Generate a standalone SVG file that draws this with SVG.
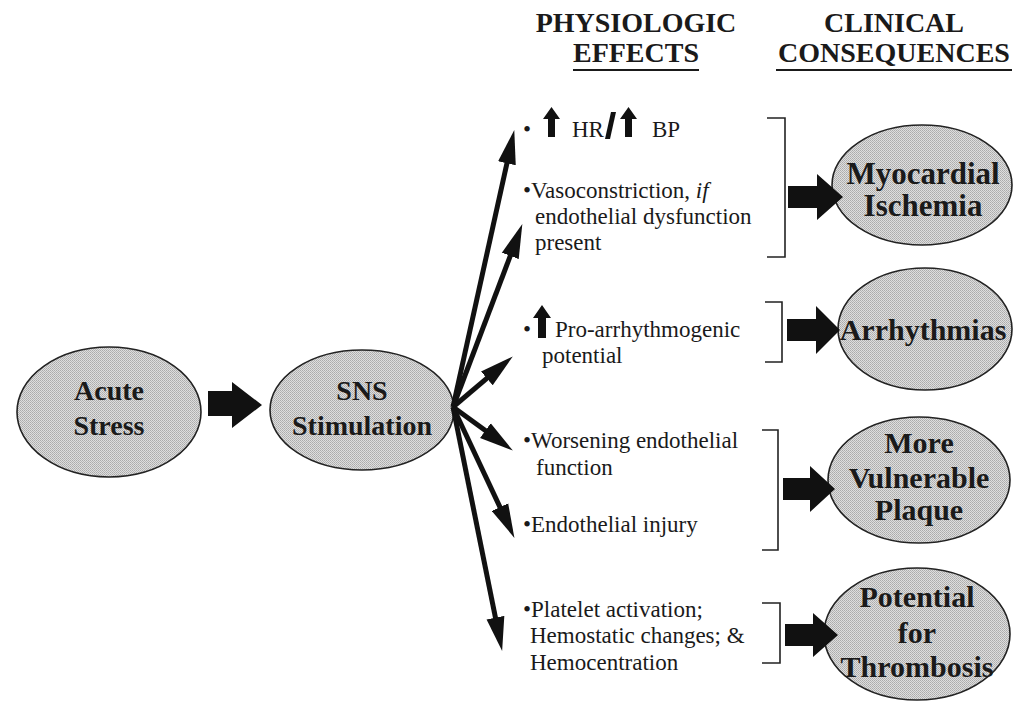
<svg xmlns="http://www.w3.org/2000/svg" width="1018" height="708" viewBox="0 0 1018 708">
  <defs>
    <pattern id="stipple" width="2" height="2" patternUnits="userSpaceOnUse">
      <rect width="2" height="2" fill="#dedede"/>
      <rect x="0" y="0" width="1" height="1" fill="#ababab"/>
      <rect x="1" y="1" width="1" height="1" fill="#b6b6b6"/>
    </pattern>
    <marker id="head" markerUnits="userSpaceOnUse" markerWidth="34" markerHeight="19" refX="16" refY="8.5" orient="auto" viewBox="0 0 32 17">
      <path d="M0,0 L32,8.5 L0,17 z" fill="#111"/>
    </marker>
  </defs>
  <style>
    text { font-family: 'Liberation Serif', Tinos, 'DejaVu Serif', serif; }
    .node { fill: url(#stipple); stroke: #222; stroke-width: 1.6; }
    .ntxt { font-weight: bold; fill: #1a1a1a; text-anchor: middle; }
    .hdr { font-weight: bold; font-size: 28px; fill: #1a1a1a; text-anchor: middle; }
    .body { font-size: 23px; fill: #1a1a1a; }
    .fan { stroke: #111; stroke-width: 5; fill: none; marker-end: url(#head); }
    .block { fill: #111; }
    .bracket { fill: none; stroke: #222; stroke-width: 1.6; }
    .uline { stroke: #1a1a1a; stroke-width: 2; }
  </style>

  <!-- Headers -->
  <g id="headers">
    <text class="hdr" x="636" y="32">PHYSIOLOGIC</text>
    <text class="hdr" x="636" y="62">EFFECTS</text>
    <line class="uline" x1="573" y1="70" x2="699" y2="70"/>
    <text class="hdr" x="894" y="32">CLINICAL</text>
    <text class="hdr" x="894" y="62">CONSEQUENCES</text>
    <line class="uline" x1="776" y1="70" x2="1012" y2="70"/>
  </g>

  <!-- Nodes -->
  <g id="acute-stress">
    <ellipse class="node" cx="109" cy="412" rx="92" ry="65"/>
    <text class="ntxt" x="109" y="400" font-size="28">Acute</text>
    <text class="ntxt" x="109" y="435" font-size="28">Stress</text>
  </g>
  <g id="sns-stimulation">
    <ellipse class="node" cx="362" cy="410" rx="92" ry="60"/>
    <text class="ntxt" x="362" y="400" font-size="28">SNS</text>
    <text class="ntxt" x="362" y="435" font-size="28">Stimulation</text>
  </g>
  <g id="myocardial-ischemia">
    <ellipse class="node" cx="922" cy="185" rx="90" ry="60"/>
    <text class="ntxt" x="923" y="184" font-size="31">Myocardial</text>
    <text class="ntxt" x="923" y="216" font-size="31">Ischemia</text>
  </g>
  <g id="arrhythmias">
    <ellipse class="node" cx="925" cy="329" rx="87" ry="61"/>
    <text class="ntxt" x="923" y="340" font-size="30">Arrhythmias</text>
  </g>
  <g id="vulnerable-plaque">
    <ellipse class="node" cx="919" cy="480" rx="91" ry="63"/>
    <text class="ntxt" x="919" y="453" font-size="30">More</text>
    <text class="ntxt" x="919" y="488" font-size="30">Vulnerable</text>
    <text class="ntxt" x="919" y="520" font-size="30">Plaque</text>
  </g>
  <g id="thrombosis">
    <ellipse class="node" cx="917" cy="634" rx="93" ry="66"/>
    <text class="ntxt" x="917" y="607" font-size="30">Potential</text>
    <text class="ntxt" x="917" y="643" font-size="30">for</text>
    <text class="ntxt" x="917" y="677" font-size="30">Thrombosis</text>
  </g>

  <!-- Physiologic effects text -->
  <g id="effect-hr-bp">
    <text class="body" x="523" y="137">•</text>
    <polygon class="block" points="548,137 555,137 555,119 560,119 551.5,107 543,119 548,119"/>
    <text class="body" x="572" y="137">HR</text>
    <polygon class="block" points="605,139 610,139 616,112 611,112"/>
    <polygon class="block" points="625,137 632,137 632,119 637,119 628.5,107 620,119 625,119"/>
    <text class="body" x="652" y="137">BP</text>
  </g>
  <g id="effect-vasoconstriction">
    <text class="body" x="523" y="198">•Vasoconstriction, <tspan font-style="italic">if</tspan></text>
    <text class="body" x="535" y="224">endothelial dysfunction</text>
    <text class="body" x="535" y="250">present</text>
  </g>
  <g id="effect-arrhythmogenic">
    <text class="body" x="523" y="337">•</text>
    <polygon class="block" points="538,338 546,338 546,318 551,318 542,305 533,318 538,318"/>
    <text class="body" x="555" y="337">Pro-arrhythmogenic</text>
    <text class="body" x="542" y="363">potential</text>
  </g>
  <g id="effect-endothelial-function">
    <text class="body" x="523" y="448">•Worsening endothelial</text>
    <text class="body" x="536" y="475">function</text>
  </g>
  <g id="effect-endothelial-injury">
    <text class="body" x="523" y="532">•Endothelial injury</text>
  </g>
  <g id="effect-platelet">
    <text class="body" x="523" y="617">•Platelet activation;</text>
    <text class="body" x="530" y="643">Hemostatic changes; &amp;</text>
    <text class="body" x="530" y="670">Hemocentration</text>
  </g>

  <!-- Brackets -->
  <g id="brackets">
    <path class="bracket" d="M767,118 H785 V257 H767"/>
    <path class="bracket" d="M765,302 H782 V362 H765"/>
    <path class="bracket" d="M762,430 H778 V550 H762"/>
    <path class="bracket" d="M762,603 H780 V663 H762"/>
  </g>

  <!-- Connectors -->
  <g id="connectors">
    <polygon class="block" points="208,391 232,391 232,382 262,405 232,428 232,416 208,416"/>
    <line class="fan" x1="453" y1="407" x2="510.6" y2="146.7"/>
    <line class="fan" x1="453" y1="407" x2="516.3" y2="240.0"/>
    <line class="fan" x1="453" y1="407" x2="499.8" y2="367.4"/>
    <line class="fan" x1="453" y1="407" x2="499.1" y2="440.6"/>
    <line class="fan" x1="453" y1="407" x2="507.2" y2="522.5"/>
    <line class="fan" x1="453" y1="407" x2="498.8" y2="634.3"/>
    <polygon class="block" points="788,186 817,186 817,174 843,197 817,220 817,208 788,208"/>
    <polygon class="block" points="787,319 816,319 816,306 840,330 816,354 816,341 787,341"/>
    <polygon class="block" points="783,478 810,478 810,466 835,489 810,512 810,500 783,500"/>
    <polygon class="block" points="785,624 813,624 813,613 838,635 813,657 813,646 785,646"/>
  </g>
</svg>
